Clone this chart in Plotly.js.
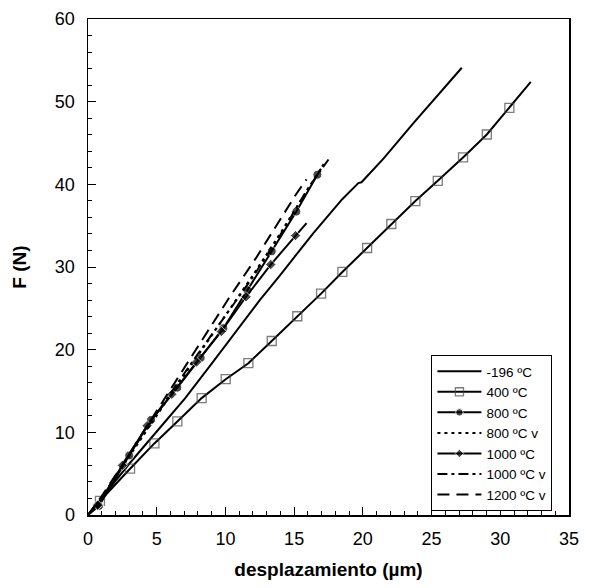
<!DOCTYPE html>
<html>
<head>
<meta charset="utf-8">
<script src="https://cdn.plot.ly/plotly-3.0.1.min.js"></script>
<style>html,body{margin:0;padding:0;background:#fff;}#chart{width:601px;height:588px;}</style>
</head>
<body>
<div id="chart"></div>
<script>
// -196 ºC
var xM196 = [0, 1, 3, 5, 7.06, 9, 11, 12.5, 13.97, 16.4, 18.5, 19.67, 19.9, 21.5, 23.68, 25.5, 27.2];
var yM196 = [0, 2.1, 6.2, 10.1, 14.1, 18.3, 22.7, 26.0, 29.0, 34.1, 38.2, 40.15, 40.25, 43.1, 47.4, 50.8, 54.1];
// 400 ºC (squares)
var x400 = [0, 0.87, 3.06, 4.83, 6.5, 8.27, 10.02, 11.67, 13.37, 15.23, 16.96, 18.51, 20.31, 22.07, 23.82, 25.45, 27.29, 29.02, 30.66, 32.22];
var y400 = [0, 1.7, 5.6, 8.66, 11.32, 14.14, 16.43, 18.36, 21.05, 24.04, 26.78, 29.4, 32.3, 35.2, 37.98, 40.43, 43.25, 46.03, 49.25, 52.4];
// 800 ºC (circles)
var x800 = [0, 0.8, 3.0, 4.59, 6.5, 8.2, 9.85, 11.6, 13.37, 15.16, 16.69, 16.95];
var y800 = [0, 1.1, 7.2, 11.5, 15.4, 19.0, 22.6, 27.2, 31.9, 36.7, 41.16, 41.9];
// 800 ºC v (dotted)
var x800v = [0, 1, 2, 4, 6, 8, 10.1, 12, 14, 15.84, 17.2];
var y800v = [0, 2.1, 4.6, 9.6, 14.5, 19.3, 24.4, 29.0, 34.1, 38.9, 42.6];
// 1000 ºC (diamonds)
var x1000 = [0, 0.7, 2.5, 4.3, 6.1, 7.9, 9.7, 11.5, 13.3, 15.1, 15.9];
var y1000 = [0, 1.2, 6.0, 10.8, 14.6, 18.5, 22.2, 26.4, 30.3, 33.8, 35.3];
// 1000 ºC v (dash-dot)
var x1000v = [0, 1, 2, 4, 6, 8, 10, 12, 14, 16, 17.5];
var y1000v = [0, 2.1, 4.7, 9.8, 14.7, 19.5, 24.1, 28.8, 33.9, 39.5, 43.0];
// 1200 ºC v (dashed)
var x1200v = [0, 1, 2, 4, 6, 8.27, 10.2, 12.23, 14.14, 15.14, 15.9];
var y1200v = [0, 2.3, 4.8, 10.0, 15.2, 21.2, 26.1, 31.1, 36.1, 38.8, 40.6];

var names = ['-196 ºC', '400 ºC', '800 ºC', '800 ºC v', '1000 ºC', '1000 ºC v', '1200 ºC v'];

function sizes(arr, s) { return arr.map(function (v, i) { return (i === 0 || i === arr.length - 1) ? 0 : s; }); }

var LW = 2;
var traces = [
  {x: xM196, y: yM196, name: names[0], mode: 'lines', line: {color: '#000', width: LW}},
  {x: x400, y: y400, name: names[1], mode: 'lines+markers', line: {color: '#000', width: LW},
   marker: {symbol: 'square-open', size: sizes(x400, 9), color: '#444', line: {width: 1.3, color: '#444'}}},
  {x: x800, y: y800, name: names[2], mode: 'lines+markers', line: {color: '#000', width: LW},
   marker: {symbol: 'circle', size: sizes(x800, 9), color: '#000'}},
  {x: x800v, y: y800v, name: names[3], mode: 'lines', line: {color: '#000', width: LW, dash: '3px,4px'}},
  {x: x1000, y: y1000, name: names[4], mode: 'lines+markers', line: {color: '#000', width: LW},
   marker: {symbol: 'diamond', size: sizes(x1000, 8), color: '#000'}},
  {x: x1000v, y: y1000v, name: names[5], mode: 'lines', line: {color: '#000', width: LW, dash: '10px,4px,3px,4px'}},
  {x: x1200v, y: y1200v, name: names[6], mode: 'lines', line: {color: '#000', width: LW, dash: '12px,7px'}}
];

var font = 'Arial, "Liberation Sans", sans-serif';
var layout = {
  width: 601, height: 588,
  margin: {l: 88, r: 32, t: 19, b: 73},
  paper_bgcolor: '#fff', plot_bgcolor: '#fff',
  font: {family: font, color: '#000', size: 18},
  showlegend: true,
  legend: {x: 0.714, y: 0.3226, xanchor: 'left', yanchor: 'top', bordercolor: '#000', borderwidth: 1,
           bgcolor: '#fff', itemwidth: 44, font: {family: font, size: 13.5, color: '#000'}},
  xaxis: {range: [0, 35], dtick: 5, tick0: 0, showgrid: false, zeroline: false,
          showline: true, linecolor: '#000', linewidth: 1.5, mirror: true,
          ticks: 'inside', ticklen: 8, tickwidth: 1, tickcolor: '#000', ticklabelstandoff: 7,
          minor: {dtick: 1, ticks: 'inside', ticklen: 4, tickcolor: '#000', showgrid: false},
          tickfont: {size: 18},
          title: {text: '<b>desplazamiento (µm)</b>', font: {size: 19}, standoff: 14}},
  yaxis: {range: [0, 60], dtick: 10, tick0: 0, showgrid: false, zeroline: false,
          showline: true, linecolor: '#000', linewidth: 1.5, mirror: true,
          ticks: 'inside', ticklen: 8, tickwidth: 1, tickcolor: '#000', ticklabelstandoff: 8,
          minor: {dtick: 2, ticks: 'inside', ticklen: 4, tickcolor: '#000', showgrid: false},
          tickfont: {size: 18},
          title: {text: '<b>F (N)</b>', font: {size: 19}, standoff: 23}}
};

Plotly.newPlot('chart', traces, layout, {displayModeBar: false, staticPlot: true});
</script>
</body>
</html>
